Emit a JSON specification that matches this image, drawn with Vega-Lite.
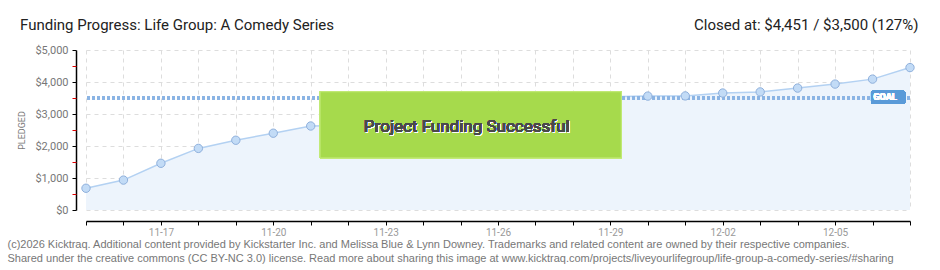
{
  "$schema": "https://vega.github.io/schema/vega-lite/v6.json",
  "width": 824,
  "height": 160,
  "autosize": "none",
  "padding": {"left": 86, "top": 50, "right": 30, "bottom": 60},
  "background": "white",
  "title": {
    "text": "Funding Progress: Life Group: A Comedy Series",
    "anchor": "start",
    "frame": "group",
    "dx": -66,
    "dy": 49,
    "offset": 21,
    "baseline": "alphabetic",
    "font": "Roboto",
    "fontSize": 15,
    "fontWeight": "normal",
    "color": "#222222"
  },
  "data": {
    "values": [
      {"date": "2013-11-15", "pledged": 680},
      {"date": "2013-11-16", "pledged": 935},
      {"date": "2013-11-17", "pledged": 1460},
      {"date": "2013-11-18", "pledged": 1925},
      {"date": "2013-11-19", "pledged": 2180},
      {"date": "2013-11-20", "pledged": 2400},
      {"date": "2013-11-21", "pledged": 2625},
      {"date": "2013-11-22", "pledged": 2640},
      {"date": "2013-11-23", "pledged": 2730},
      {"date": "2013-11-24", "pledged": 2820},
      {"date": "2013-11-25", "pledged": 2915},
      {"date": "2013-11-26", "pledged": 2915},
      {"date": "2013-11-27", "pledged": 2920},
      {"date": "2013-11-28", "pledged": 2980},
      {"date": "2013-11-29", "pledged": 3540},
      {"date": "2013-11-30", "pledged": 3560},
      {"date": "2013-12-01", "pledged": 3565},
      {"date": "2013-12-02", "pledged": 3655},
      {"date": "2013-12-03", "pledged": 3690},
      {"date": "2013-12-04", "pledged": 3810},
      {"date": "2013-12-05", "pledged": 3935},
      {"date": "2013-12-06", "pledged": 4090},
      {"date": "2013-12-07", "pledged": 4451}
    ]
  },
  "resolve": {"axis": {"x": "independent", "y": "independent"}},
  "layer": [
    {
      "mark": {"type": "area", "color": "#edf4fc", "opacity": 1},
      "encoding": {
        "x": {
          "field": "date", "type": "temporal",
          "scale": {"type": "utc", "domain": [{"year": 2013, "month": 11, "date": 15, "utc": true}, {"year": 2013, "month": 12, "date": 7, "utc": true}]},
          "axis": {
            "orient": "bottom",
            "offset": 11,
            "tickCount": {"interval": "day", "step": 1},
            "labelExpr": "round((datum.value - utc(2013,10,15)) / 86400000) % 3 == 2 ? utcFormat(datum.value, '%m-%d') : ''",
            "labelFont": "Roboto",
            "labelFontSize": 10,
            "labelColor": "#999999",
            "labelPadding": 2,
            "labelFlush": false,
            "labelOverlap": false,
            "domainColor": "#000000",
            "domainWidth": 1.5,
            "tickColor": "#000000",
            "tickSize": 4,
            "tickWidth": 1,
            "grid": true,
            "gridColor": "#dddddd",
            "gridDash": [4, 4],
            "title": ["(c)2026 Kicktraq. Additional content provided by Kickstarter Inc. and Melissa Blue & Lynn Downey. Trademarks and related content are owned by their respective companies.", "Shared under the creative commons (CC BY-NC 3.0) license. Read more about sharing this image at www.kicktraq.com/projects/liveyourlifegroup/life-group-a-comedy-series/#sharing"],
            "titleX": -79,
            "titleY": 26,
            "titleAlign": "left",
            "titleBaseline": "alphabetic",
            "titleAngle": 0,
            "titleFont": "Liberation Sans",
            "titleFontSize": 11,
            "titleFontWeight": "normal",
            "titleColor": "#777777",
            "titleLineHeight": 14
          }
        },
        "y": {
          "field": "pledged", "type": "quantitative",
          "scale": {"domain": [0, 5000], "nice": false},
          "axis": {
            "title": "PLEDGED",
            "values": [0, 1000, 2000, 3000, 4000, 5000],
            "format": "$,d",
            "labelOverlap": false,
            "labelFlush": false,
            "offset": 10,
            "labelFont": "Roboto",
            "labelFontSize": 11,
            "labelColor": "#777777",
            "labelPadding": 4,
            "domainColor": "#000000",
            "domainWidth": 1.5,
            "tickSize": 4,
            "tickColor": "#000000",
            "grid": true,
            "gridColor": "#dddddd",
            "gridDash": [4, 4],
            "titleFont": "Roboto",
            "titleFontSize": 9,
            "titleFontWeight": "normal",
            "titleColor": "#777777",
            "titlePadding": 8
          }
        }
      }
    },
    {
      "mark": {"type": "line", "color": "#b3d1f2", "strokeWidth": 1.5},
      "encoding": {
        "x": {"field": "date", "type": "temporal", "axis": null},
        "y": {"field": "pledged", "type": "quantitative", "axis": null}
      }
    },
    {
      "mark": {"type": "rule", "color": "#8ab4e4", "strokeWidth": 2.5, "strokeDash": [3, 2]},
      "encoding": {
        "y": {
          "datum": 3500,
          "axis": {
            "orient": "left",
            "offset": 10,
            "values": [500, 1500, 2500, 3500, 4500],
            "labels": false,
            "domain": false,
            "grid": false,
            "tickColor": "#dd0000",
            "tickSize": 4,
            "title": null
          }
        }
      }
    },
    {
      "mark": {"type": "point", "filled": true, "fill": "#c2dbf6", "stroke": "#8fb0dc", "strokeWidth": 1, "size": 70, "opacity": 1},
      "encoding": {
        "x": {"field": "date", "type": "temporal", "axis": null},
        "y": {"field": "pledged", "type": "quantitative", "axis": null}
      }
    },
    {
      "mark": {"type": "rect", "fill": "#a6d94c", "fillOpacity": 0.93, "stroke": "#c2ea78", "strokeWidth": 1},
      "encoding": {
        "x": {"datum": {"year": 2013, "month": 11, "date": 21, "hours": 6, "utc": true}, "type": "temporal", "axis": null},
        "x2": {"datum": {"year": 2013, "month": 11, "date": 29, "hours": 7, "utc": true}},
        "y": {"datum": 3696, "axis": null},
        "y2": {"datum": 1627}
      }
    },
    {
      "mark": {"type": "text", "text": "Project Funding Successful", "font": "Roboto", "fontSize": 17, "color": "#ffffff", "opacity": 0.8, "align": "center", "baseline": "middle", "dx": 1, "dy": 1},
      "encoding": {
        "x": {"datum": {"year": 2013, "month": 11, "date": 25, "hours": 4, "utc": true}, "type": "temporal", "axis": null},
        "y": {"datum": 2600, "axis": null}
      }
    },
    {
      "mark": {"type": "text", "text": "Project Funding Successful", "font": "Roboto", "fontSize": 17, "color": "#4a4a4a", "align": "center", "baseline": "middle"},
      "encoding": {
        "x": {"datum": {"year": 2013, "month": 11, "date": 25, "hours": 4, "utc": true}, "type": "temporal", "axis": null},
        "y": {"datum": 2600, "axis": null}
      }
    },
    {
      "mark": {"type": "rect", "fill": "#5a9ad8", "cornerRadius": 2},
      "encoding": {
        "x": {"datum": {"year": 2013, "month": 12, "date": 5, "hours": 23, "utc": true}, "type": "temporal", "axis": null},
        "x2": {"datum": {"year": 2013, "month": 12, "date": 6, "hours": 21, "utc": true}},
        "y": {"datum": 3727, "axis": null},
        "y2": {"datum": 3320}
      }
    },
    {
      "mark": {"type": "text", "text": "GOAL", "font": "Roboto", "fontSize": 9, "fontWeight": "bold", "color": "#ffffff", "align": "center", "baseline": "middle"},
      "encoding": {
        "x": {
          "datum": {"year": 2013, "month": 12, "date": 6, "hours": 8, "utc": true}, "type": "temporal",
          "axis": {
            "orient": "top",
            "domain": false,
            "ticks": false,
            "labels": false,
            "grid": false,
            "title": "Closed at:  $4,451 /  $3,500 (127%)",
            "titleX": 832,
            "titleY": -21,
            "titleAlign": "right",
            "titleAnchor": null,
            "titleBaseline": "alphabetic",
            "titleFont": "Roboto",
            "titleFontSize": 15,
            "titleFontWeight": "normal",
            "titleColor": "#222222"
          }
        },
        "y": {"datum": 3524, "axis": null}
      }
    }
  ],
  "config": {
    "view": {"stroke": null}
  }
}
